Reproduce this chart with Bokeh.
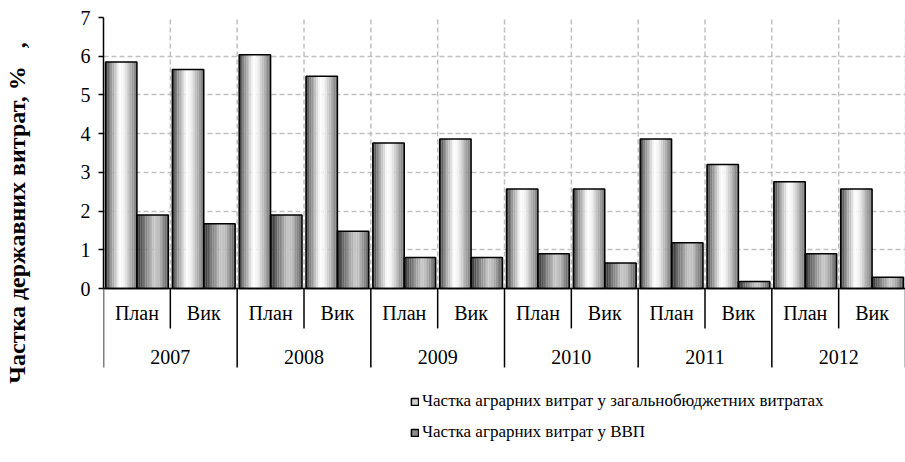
from bokeh.plotting import figure
from bokeh.models import FactorRange, Range1d, Legend, LegendItem, FixedTicker
from bokeh.transform import dodge
from bokeh.core.properties import value
from bokeh.embed import file_html
from bokeh.resources import INLINE

years = ["2007", "2008", "2009", "2010", "2011", "2012"]
kinds = ["План", "Вик"]
budget_share = [5.85, 5.66, 6.04, 5.48, 3.76, 3.86, 2.57, 2.57, 3.86, 3.20, 2.76, 2.57]
gdp_share = [1.90, 1.67, 1.90, 1.48, 0.80, 0.80, 0.90, 0.66, 1.18, 0.18, 0.90, 0.29]
series_names = ["Частка аграрних витрат у загальнобюджетних витратах",
                "Частка аграрних витрат у ВВП"]
y_title_text = "Частка державних витрат, %"
y_ticks = [0, 1, 2, 3, 4, 5, 6, 7]

NB = "\u00a0"
# leading / inner non-breaking spaces only position the rotated title
y_title = NB * 9 + y_title_text + NB * 3 + ","

factors = [(y, k) for y in years for k in kinds]
src = dict(x=factors, s1=budget_share, s2=gdp_share)

FONT = "Liberation Serif"
Y_MIN_VIS = -4.494  # room below zero for the category labels and legend
GRID = "#c0c0c0"

p = figure(width=905, height=462,
           x_range=FactorRange(*factors, factor_padding=0, group_padding=0,
                               subgroup_padding=0, range_padding=0),
           y_range=Range1d(Y_MIN_VIS, y_ticks[-1]),
           x_axis_location=None,
           output_backend="svg", toolbar_location=None,
           min_border_left=103, min_border_top=17, min_border_right=0,
           min_border_bottom=0)
p.outline_line_color = None
p.xgrid.visible = False

# horizontal grid
p.ygrid.grid_line_color = GRID
p.ygrid.grid_line_dash = "5 3"
p.ygrid.grid_line_width = 1.5

# vertical grid at category boundaries
n = len(factors)
bounds_x = list(range(1, n + 1))
p.segment(x0=bounds_x, x1=bounds_x, y0=[0] * n, y1=[y_ticks[-1]] * n,
          line_color=GRID, line_dash="5 3", line_width=1.5)


def lerp_stops(stops, t):
    for (t0, c0), (t1, c1) in zip(stops[:-1], stops[1:]):
        if t0 <= t <= t1:
            f = (t - t0) / (t1 - t0) if t1 > t0 else 0
            c = [round(a + (b - a) * f) for a, b in zip(c0, c1)]
            return "#%02x%02x%02x" % tuple(c)
    return "#%02x%02x%02x" % tuple(stops[-1][1])


stops1 = [(0.0, (50, 50, 50)), (0.15, (135, 135, 135)), (0.45, (255, 255, 255)),
          (0.6, (240, 240, 240)), (1.0, (115, 115, 115))]
stops2 = [(0.0, (40, 40, 40)), (0.2, (105, 105, 105)), (0.55, (200, 200, 200)),
          (0.7, (185, 185, 185)), (1.0, (90, 90, 90))]

BW = 0.47
N = 18
for col, off, stops in (("s1", -BW / 2, stops1), ("s2", BW / 2, stops2)):
    sw = BW / N
    for k in range(N):
        c = lerp_stops(stops, (k + 0.5) / N)
        xo = off - BW / 2 + (k + 0.5) * sw
        p.vbar(x=dodge("x", xo, range=p.x_range), top=col, width=sw * 1.08, source=src,
               fill_color=c, line_color=None)
    p.vbar(x=dodge("x", off, range=p.x_range), top=col, width=BW, source=src,
           fill_color=None, line_color="black", line_width=1.5)

# x axis line, separators and category labels
p.segment(x0=[0], x1=[n], y0=[0], y1=[0], line_color="black", line_width=1.5)
sep_x = list(range(0, n + 1))
sep_y = [-2.04 if i % 2 == 0 else -1.03 for i in sep_x]
p.segment(x0=sep_x, x1=sep_x, y0=[0] * len(sep_x), y1=sep_y,
          line_color="black", line_width=1.5)
p.text(x=factors, y=[-0.62] * n, text=[f[1] for f in factors],
       text_font=value(FONT), text_font_size="20px", text_color="black",
       text_align="center", text_baseline="middle")
p.text(x=years, y=[-1.76] * len(years), text=years,
       text_font=value(FONT), text_font_size="20px", text_color="black",
       text_align="center", text_baseline="middle")

# y axis
ya = p.yaxis[0]
ya.ticker = FixedTicker(ticks=y_ticks)
ya.bounds = (y_ticks[0], y_ticks[-1])
ya.axis_line_color = "black"
ya.axis_line_width = 1.5
ya.major_tick_line_color = "black"
ya.major_tick_line_width = 1.5
ya.major_tick_out = 5
ya.major_tick_in = 0
ya.minor_tick_line_color = None
ya.major_label_text_font = FONT
ya.major_label_text_font_size = "20px"
ya.major_label_text_color = "black"
ya.major_label_standoff = 8
ya.axis_label = y_title
ya.axis_label_text_font = FONT
ya.axis_label_text_font_size = "24px"
ya.axis_label_text_font_style = "bold"
ya.axis_label_text_color = "black"
ya.axis_label_standoff = 48

# legend (inside the lower part of the frame)
d1 = p.quad(left=[0], right=[0], bottom=[-50], top=[-50], fill_color="#d0d0d0",
            line_color="black", line_width=1.5)
d2 = p.quad(left=[0], right=[0], bottom=[-50], top=[-50], fill_color="#8c8c8c",
            line_color="black", line_width=1.5)
leg = Legend(items=[LegendItem(label=series_names[0], renderers=[d1]),
                    LegendItem(label=series_names[1], renderers=[d2])],
             location=(307, 20), orientation="vertical", margin=0, padding=0,
             label_text_font=FONT, label_text_font_size="17px", label_text_color="black",
             glyph_width=9, glyph_height=9, label_standoff=3, spacing=11,
             label_height=17, border_line_color=None, background_fill_alpha=0)
p.add_layout(leg)

open("out.html", "w").write(file_html(p, INLINE))
